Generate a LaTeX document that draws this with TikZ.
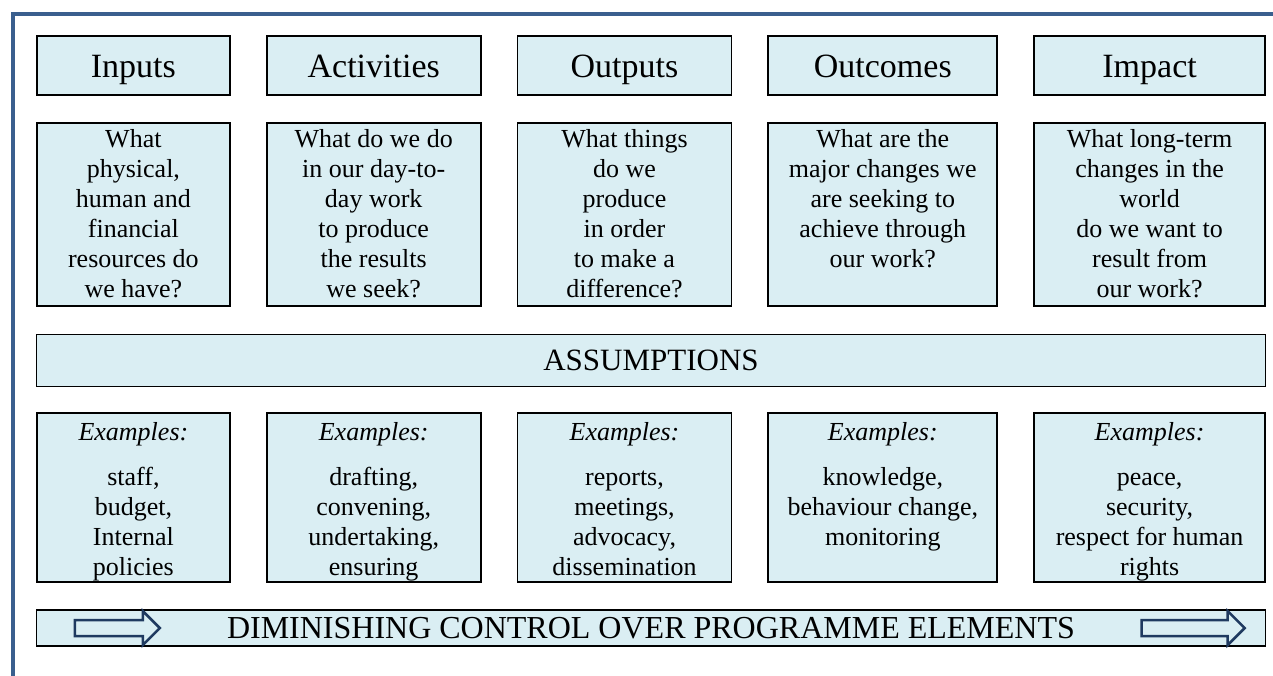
\documentclass[tikz,border=0pt]{standalone}
\usepackage{fontspec}
\setmainfont{Liberation Serif}
\usepackage{xcolor}
\definecolor{FrameBlue}{HTML}{3A5F8E}
\definecolor{BoxFill}{HTML}{DAEEF3}
\definecolor{ArrowNavy}{HTML}{1F3A60}
\usetikzlibrary{positioning, shapes.arrows, calc}

\begin{document}
\begin{tikzpicture}[
    x=1pt, y=1pt, node distance=26pt and 35pt,
    box/.style={draw=black, line width=1.8pt, fill=BoxFill, align=center, inner xsep=2pt, inner ysep=5pt},
    headbox/.style={box, minimum height=59pt, text height=33pt, text depth=8pt, font=\fontsize{34}{38}\selectfont},
    % fixed text height/depth keep every column on one baseline grid
    qbox/.style={box, inner ysep=0pt, minimum height=183pt, text height=173pt, text depth=6pt, font=\fontsize{26}{30}\selectfont},
    exbox/.style={box, inner ysep=0pt, minimum height=169pt, text height=162pt, text depth=6pt, font=\fontsize{26}{30}\selectfont},
    widebox/.style={box, minimum width=1229pt, font=\fontsize{31}{35}\selectfont},
    flowarrow/.style={single arrow, draw=ArrowNavy, line width=2.5pt, fill=BoxFill, inner xsep=0pt, inner ysep=6.75pt, single arrow head extend=9pt, minimum width=0pt},
    frameline/.style={draw=FrameBlue, line width=4pt}
]
\useasboundingbox (0,0) rectangle (1273,-676);
% page frame, open to the right and bottom
\draw[frameline] (12.5,-690) -- (12.5,-14.5) -- (1290,-14.5);

% column headings
\node[headbox, minimum width=193pt, anchor=north west] (inputs) at (36,-35) {Inputs};
\node[headbox, minimum width=214pt, right=of inputs] (activities) {Activities};
\node[headbox, minimum width=214pt, right=of activities] (outputs) {Outputs};
\node[headbox, minimum width=229pt, right=of outputs] (outcomes) {Outcomes};
\node[headbox, minimum width=231pt, right=of outcomes] (impact) {Impact};

% guiding questions
\node[qbox, minimum width=193pt, below=of inputs] (inputsq) {What\\physical,\\human and\\financial\\resources do\\we have?};
\node[qbox, minimum width=214pt, below=of activities] (activitiesq) {What do we do\\in our day-to-\\day work\\to produce\\the results\\we seek?};
\node[qbox, minimum width=214pt, below=of outputs] (outputsq) {What things\\do we\\produce\\in order\\to make a\\difference?};
\node[qbox, minimum width=229pt, below=of outcomes] (outcomesq) {What are the\\major changes we\\are seeking to\\achieve through\\our work?\\~};
\node[qbox, minimum width=231pt, below=of impact] (impactq) {What long-term\\changes in the\\world\\do we want to\\result from\\our work?};

\node[widebox, minimum height=52pt, below=27pt of $(inputsq.south west)!0.5!(impactq.south east)$] (assump) {ASSUMPTIONS};

% examples per column
\node[exbox, minimum width=193pt, below=25pt of inputsq |- assump.south] (inputsex) {\textit{Examples:}\\[15pt]staff,\\budget,\\Internal\\policies};
\node[exbox, minimum width=214pt, below=25pt of activitiesq |- assump.south] (activitiesex) {\textit{Examples:}\\[15pt]drafting,\\convening,\\undertaking,\\ensuring};
\node[exbox, minimum width=214pt, below=25pt of outputsq |- assump.south] (outputsex) {\textit{Examples:}\\[15pt]reports,\\meetings,\\advocacy,\\dissemination};
\node[exbox, minimum width=229pt, below=25pt of outcomesq |- assump.south] (outcomesex) {\textit{Examples:}\\[15pt]knowledge,\\behaviour change,\\monitoring\\~};
\node[exbox, minimum width=231pt, below=25pt of impactq |- assump.south] (impactex) {\textit{Examples:}\\[15pt]peace,\\security,\\respect for human\\rights};

\node[widebox, minimum height=36pt, font=\fontsize{32}{36}\selectfont, below=26pt of $(inputsex.south west)!0.5!(impactex.south east)$] (control) {DIMINISHING CONTROL OVER PROGRAMME ELEMENTS};
\node[flowarrow, minimum height=85pt, right=38pt of control.west] (leftarrow) {};
\node[flowarrow, minimum height=103pt, left=20pt of control.east] (rightarrow) {};
\end{tikzpicture}
\end{document}
